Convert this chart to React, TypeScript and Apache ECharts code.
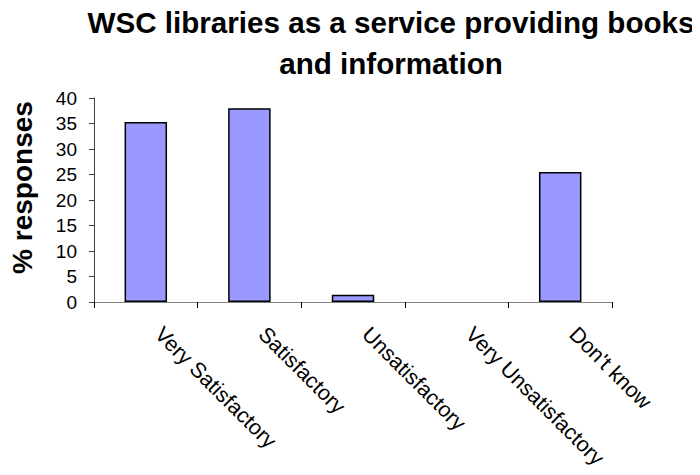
import React, { useEffect, useRef } from "react";
import * as echarts from "echarts";

const categories = ["Very Satisfactory", "Satisfactory", "Unsatisfactory", "Very Unsatisfactory", "Don't know"];
const values = [35.3, 38.0, 1.4, 0, 25.5];
const titleText = "WSC libraries as a service providing books\nand information";
const yAxisName = "% responses";

const FONT = "Liberation Sans, Arial, sans-serif";

export default function App() {
  const ref = useRef<HTMLDivElement>(null);
  useEffect(() => {
    const chart = echarts.init(ref.current!, null, { renderer: "svg" });
    chart.setOption({
      animation: false,
      backgroundColor: "#ffffff",
      title: {
        text: titleText,
        left: 391,
        top: 2,
        padding: 0,
        textAlign: "center",
        textStyle: {
          fontFamily: FONT,
          fontWeight: "bold",
          fontSize: 29.6,
          lineHeight: 41,
          color: "#000",
        },
      },
      grid: { left: 90, right: 88, top: 98, bottom: 173 },
      xAxis: {
        type: "category",
        data: categories,
        axisLine: { lineStyle: { color: "#808080", width: 1 } },
        axisTick: { show: true, alignWithLabel: false, length: 6, lineStyle: { color: "#000" } },
        axisLabel: {
          rotate: -45,
          interval: 0,
          margin: 16,
          padding: [0, 0, 0, 18],
          fontFamily: FONT,
          fontSize: 21.5,
          color: "#000",
        },
        splitLine: { show: false },
      },
      yAxis: {
        type: "value",
        min: 0,
        max: 40,
        interval: 5,
        name: yAxisName,
        nameLocation: "middle",
        nameRotate: 90,
        nameGap: 58,
        nameTextStyle: {
          fontFamily: FONT,
          fontWeight: "bold",
          fontSize: 28,
          color: "#000",
          padding: [0, 0, 0, 25],
        },
        axisLine: { show: true, lineStyle: { color: "#404040", width: 1 } },
        axisTick: { show: true, length: 5, lineStyle: { color: "#404040" } },
        axisLabel: {
          margin: 17,
          fontFamily: FONT,
          fontSize: 19,
          color: "#000",
        },
        splitLine: { show: false },
      },
      series: [
        {
          type: "bar",
          data: values.map((v) =>
            v === 0 ? { value: v, itemStyle: { borderWidth: 0, opacity: 0 } } : v
          ),
          barWidth: "41%",
          itemStyle: { color: "#9999ff", borderColor: "#000", borderWidth: 1.5 },
        },
      ],
    });
    return () => chart.dispose();
  }, []);
  return <div ref={ref} style={{ width: 700, height: 475, margin: -8 }} />;
}
